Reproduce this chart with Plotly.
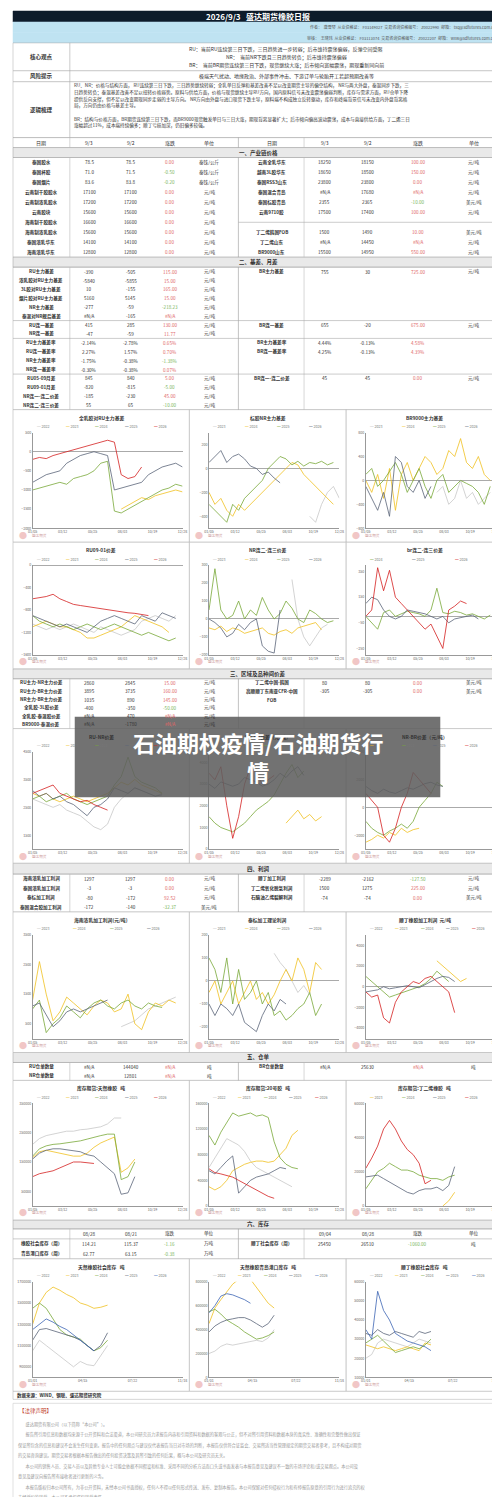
import plotly.graph_objects as go

W, H = 500, 1497
FONT = "Noto Sans CJK SC"

def X(x):
    return x / W

def Y(y):
    return 1 - y / H

# ---------------- data ----------------
t1_left_names = ["泰国胶水", "泰国杯胶", "泰国烟片", "云南制干胶胶水", "云南制浓乳胶水", "云南胶块",
                 "海南制干胶胶水", "海南制浓乳胶水", "泰国浓乳华东", "海南浓乳华东"]
t1_left_now = ["78.5", "71.0", "83.6", "17100", "17200", "15600", "16600", "15600", "14100", "12800"]
t1_left_prev = ["78.5", "71.5", "83.8", "17100", "17200", "15600", "16600", "15600", "14100", "12800"]
t1_left_chg = ["0.00", "-0.50", "-0.20", "0.00", "0.00", "0.00", "0.00", "0.00", "0.00", "0.00"]
t1_left_unit = ["泰铢/公斤"] * 3 + ["元/吨"] * 7
t1_right_names = ["云南全乳华东", "越南3L胶华东", "泰国RSS3山东", "泰国混合青岛", "泰国标胶青岛", "云南9710胶",
                  "", "丁二烯韩国FOB", "丁二烯山东", "BR9000山东"]
t1_right_now = ["18250", "18650", "23800", "#N/A", "2355", "17500", "", "1500", "#N/A", "15500"]
t1_right_prev = ["18150", "18500", "23800", "17680", "2365", "17400", "", "1490", "14450", "14950"]
t1_right_chg = ["100.00", "150.00", "0.00", "#N/A", "-10.00", "100.00", "", "10.00", "#N/A", "550.00"]
t1_right_unit = ["元/吨", "元/吨", "元/吨", "元/吨", "美元/吨", "元/吨", "", "美元/吨", "元/吨", "元/吨"]

t2_left_names = ["RU主力基差", "浓乳胶对RU主力基差", "3L胶对RU主力基差", "烟片胶对RU主力基差", "NR主力基差",
                 "泰混对NR舰后基差", "RU连一基差", "NR连一基差", "RU主力基差率", "RU连一基差率", "NR主力基差率",
                 "NR连一基差率", "RU05-09月差", "RU09-01月差", "NR连一-连二价差", "NR连二-连三价差"]
t2_left_now = ["-390", "-5840", "10", "5160", "-277", "#N/A", "415", "-47", "-2.14%", "2.27%", "-1.75%",
               "-0.30%", "845", "-820", "-185", "55"]
t2_left_prev = ["-505", "-5855", "-155", "5145", "-59", "-165", "285", "-59", "-2.78%", "1.57%", "-0.38%",
                "-0.38%", "840", "-815", "-230", "65"]
t2_left_chg = ["115.00", "15.00", "165.00", "15.00", "-218.23", "#N/A", "130.00", "11.77", "0.65%", "0.70%",
               "-1.38%", "0.07%", "5.00", "-5.00", "45.00", "-10.00"]
t2_left_unit = ["元/吨"] * 8 + [""] * 4 + ["元/吨"] * 4
t2_right_names = ["BR主力基差", "", "", "", "", "", "BR连一基差", "", "BR主力基差率", "BR连一基差率", "", "",
                  "BR连一-连二价差", "", "", ""]
t2_right_now = ["755", "", "", "", "", "", "655", "", "4.44%", "4.25%", "", "", "45", "", "", ""]
t2_right_prev = ["30", "", "", "", "", "", "-20", "", "-0.13%", "-0.13%", "", "", "45", "", "", ""]
t2_right_chg = ["725.00", "", "", "", "", "", "675.00", "", "4.58%", "4.39%", "", "", "0.00", "", "", ""]
t2_right_unit = ["元/吨", "", "", "", "", "", "元/吨", "", "", "", "", "", "元/吨", "", "", ""]

t3_left_names = ["RU主力-NR主力价差", "RU主力-BR主力价差", "NR主力-BR主力价差", "全乳胶-3L胶价差",
                 "全乳胶-泰混胶价差", "BR9000-泰混价差"]
t3_left_now = ["2860", "3895", "1035", "-400", "#N/A", "#N/A"]
t3_left_prev = ["2845", "3735", "890", "-350", "470", "-1780"]
t3_left_chg = ["15.00", "160.00", "145.00", "-50.00", "#N/A", "#N/A"]
t3_left_unit = ["元/吨"] * 6
t3_right_names = ["丁二烯中国-韩国", "高顺顺丁东南亚CFR-中国", "FOB", "", "", ""]
t3_right_now = ["80", "-305", "", "", "", ""]
t3_right_prev = ["80", "-305", "", "", "", ""]
t3_right_chg = ["0.00", "0.00", "", "", "", ""]
t3_right_unit = ["美元/吨", "美元/吨", "", "", "", ""]

t4_left_names = ["海南浓乳加工利润", "泰国浓乳加工利润", "泰标加工利润", "泰国混合胶加工利润"]
t4_left_now = ["1297", "-3", "-80", "-172"]
t4_left_prev = ["1297", "-3", "-172", "-140"]
t4_left_chg = ["0.00", "0.00", "92.52", "-32.37"]
t4_left_unit = ["元/吨", "元/吨", "元/吨", "美元/吨"]
t4_right_names = ["顺丁加工利润", "丁二烯氧化脱氢利润", "石脑油乙烯裂解利润", ""]
t4_right_now = ["-2289", "1500", "-74", ""]
t4_right_prev = ["-2162", "1275", "-74", ""]
t4_right_chg = ["-127.50", "225.00", "0.00", ""]
t4_right_unit = ["元/吨", "元/吨", "美元/吨", ""]

t5_left_names = ["RU仓单数量", "NR仓单数量"]
t5_left_now = ["#N/A", "#N/A"]
t5_left_prev = ["144040", "12801"]
t5_left_chg = ["#N/A", "#N/A"]
t5_left_unit = ["吨", "吨"]
t5_right_names = ["BR仓单数量", ""]
t5_right_now = ["#N/A", ""]
t5_right_prev = ["25630", ""]
t5_right_chg = ["#N/A", ""]
t5_right_unit = ["吨", ""]

t6_left_names = ["", "橡胶社会库存（周）", "青岛港口库存（周）"]
t6_left_now = ["08/28", "114.21", "62.77"]
t6_left_prev = ["08/21", "115.37", "63.15"]
t6_left_chg = ["涨跌", "-1.16", "-0.38"]
t6_left_unit = ["单位", "万吨", "万吨"]
t6_right_names = ["", "顺丁社会库存（周）", ""]
t6_right_now = ["09/04", "25450", ""]
t6_right_prev = ["08/28", "26510", ""]
t6_right_chg = ["涨跌", "-1060.00", ""]
t6_right_unit = ["单位", "吨", ""]

N = None
C22, C23, C24, C25, C26 = "#c8c8c8", "#f0c020", "#78a838", "#5a6478", "#d42020"
BLUE26 = "#3c64b4"

charts = [
    dict(title="全乳胶对RU主力基差", yr=[-2000, 500], yt=[500, 0, -500, -1000, -1500, -2000],
         series=[("2022", C22, []),
                 ("2023", C23, [N] * 13 + [-1500, -1400, -1300, -1200, -1250, -1150, -1100, -1050, -1000, -1050]),
                 ("2024", C24, [-1000, -950, -900, -850, -800, -850, -700, -650, -600, -500, -300, -250, -1550,
                                -1600, -1500, -1400, -1300, -1200, -1100, -1000, -950, -850, -900]),
                 ("2025", C25, [-800, -700, -600, -550, -500, -300, -200, -100, -50, 0, -50, -100, -1000, -950,
                                -900, -850, -800, -600, -500, -400, -350, -300, -400]),
                 ("2026", C26, [-200, -150, -180, -100, -50, 0, 50, 100, 150, 200, 250, 300, 250, -600, -700,
                                -650, -400])]),
    dict(title="标胶NR主力基差", yr=[-500, 300], yt=[200, 0, -200, -400],
         series=[("2023", C22, [N] * 17 + [-400, -450, -300, -200, -150, -250]),
                 ("2024", C23, [-200, -300, -250, -350, -400, -300, -350, -300, -250, -200, -150, -100, -50, 0,
                                50, 30, -50, -100, -150, -200, -250, -300]),
                 ("2025", C24, [-300, -350, -400, -450, -300, -350, -250, -200, -150, -100, 0, 50, 100, 80, 30,
                                60, 20, 50, 40, 60, 30, 50]),
                 ("2026", C25, [50, 100, 150, 50, 100, 120, 80, 20, 0, -50, -30, -80, -120])]),
    dict(title="BR9000主力基差", yr=[-800, 800], yt=[800, 400, 0, -400, -800],
         series=[("2023", C22, [N] * 12 + [-200, -100, -400, -300, 0, -300, -200, -400, -300, -200]),
                 ("2024", C23, [0, -200, 100, -300, 200, -500, 100, 300, 0, 200, 400, 300, 100, 200, 500, 400,
                                700, 300, 200, 400, 100, 0]),
                 ("2025", C24, [100, 200, -100, 0, 150, 300, 100, -200, 0, 200, -100, -300, 0, 100, -200, -100,
                                0, -50, -100, -200, -400, -100]),
                 ("2026", C25, [-100, -300, -500, -200, -600, 400, 300, -100, -200, 0, -300, -100])]),
    dict(title="RU09-01价差", yr=[-1600, 0], yt=[0, -400, -800, -1200, -1600],
         series=[("2022", C22, [-1050, -1100, -1150, -1100, -1150, -1100, -1050, -1100, -1150, -1200, -1100,
                                -1150, -1200, -1250, -1200, -1150, -1000, -950, -900, -950, -1000, -900]),
                 ("2023", C23, [-1100, -1050, -1000, -1050, -1100, -1100, -1150, -1200, -1300, -1300, -1250,
                                -1200, -1150, -1100, -1000, -900, -950, -1000, -1050, -1100, -1200]),
                 ("2024", C24, [-900, -1000, -1050, -1100, -1050, -1100, -1150, -1100, -1050, -1100, -1150, -1100,
                                -1050, -1100, -1150, -1200, -1250, -1200, -1250, -1300, -1350, -1300]),
                 ("2025", C25, [-900, -950, -1000, -1050, -1100, -1050, -1100, -1150, -1200, -1100, -1000, -950,
                                -900, -950, -1000, -1050, -900, -950, -1000, -850, -900, -950]),
                 ("2026", C26, [-600, -580, -560, -520, -600, -650, -700, -720, -740, -750, -780, -800, -820,
                                -840, -850, -860, -880, -900])]),
    dict(title="NR连二-连三价差", yr=[-200, 300], yt=[300, 200, 100, 0, -100, -200],
         series=[("2023", C22, [N] * 14 + [220, 0, -100, -150, -100, -50, -30]),
                 ("2024", C23, [-50, -60, -40, -70, -50, -60, -80, -70, -60, -50, -80, -90, -70, -60, -80, -50,
                                -40, -30, -20, -60]),
                 ("2025", C24, [50, 280, 50, 0, 20, 100, 0, 50, 20, 120, 50, 0, 30, 100, 60, 0, -20, 50, 30, 0,
                                -20, -10]),
                 ("2026", C25, [0, -20, -50, -100, -80, -30, -60, -20, 0, -150, -180, -190, 50])]),
    dict(title="br连二-连三价差", yr=[-300, 400], yt=[350, 150, -50, -250],
         series=[("2024", C24, [0, -50, -100, 30, 50, 0, 20, 40, 30, 20, 0, 50, 220, 30, 20, 40, 30, 10, 20, 0,
                                -20, 10]),
                 ("2025", C25, [100, 150, 130, 50, 0, -20, 0, 50, 40, 30, 20, 0, -20, 0, -50, -20, -10, 0, 10,
                                -20]),
                 ("2026", C26, [0, 50, 380, 200, 360, 150, 100, 50, 0, -50, -100, -60, -150, -250, 50, 80, 120,
                                100])]),
    dict(title="RU-NR价差", yr=[1000, 4500], yt=[4500, 3500, 2500, 1500],
         series=[("2022", C22, [2800, 2700, 2600, 2500, 2600, 2400, 2300, 2200, 2000, 1800, 1700, 1900, 2500,
                                2800, 3000, 3200, 3100, 3000, 2900, 3000]),
                 ("2023", C23, [3000, 2900, 3000, 2800, 2700, 2800, 2900, 2800, 2700, 2800, 2900, 3000, 3200,
                                3400, 3300, 3500, 3300, 3200, 3100, 3000]),
                 ("2024", C24, [2800, 2900, 2700, 2800, 2900, 3000, 2800, 2700, 2600, 2700, 2800, 2900, 3300,
                                3600, 4300, 3600, 3400, 3300, 3200, 3000]),
                 ("2025", C25, [3100, 2900, 3000, 2800, 2900, 2700, 2600, 2400, 2200, 2500, 2600, 2800, 3200,
                                3100, 3000, 3200, 3100, 3000, 2900, 2950]),
                 ("2026", C26, [3000, 3100, 3200, 3300, 3000, 2900, 2800, 2700, 2750, 2600, 2500, 2400])]),
    dict(title="RU-BR价差（元/吨）", yr=[0, 4500], yt=[4000, 3000, 2000, 1000, 0],
         series=[("2023", C22, []),
                 ("2024", C23, [N] * 13 + [1200, 1500, 1800, 1400, 1600, 1300, 1500]),
                 ("2025", C24, [1500, 1200, 1000, 900, 800, 1000, 1200, 1500, 1800, 2000, 2200, 2500, 3000, 3500,
                                3900, 3300, 3600]),
                 ("2026", C25, [3000, 2800, 3100, 3000, 2900, 3000, 3300, 3200, 3100, 2900, 3000, 3200, 3500,
                                3300, 3600, 3800, 3400]),
                 ("2026", C26, [3500, 3200, 3800, 2000, 500, 1500, 3000, 3800, 3500, 3000, 3200, 3400])]),
    dict(title="NR-BR价差（元/吨）", yr=[-3000, 4000], yt=[4000, 2000, 0, -2000],
         series=[("2023", C23, [-2500, -2300, -2000, -2200, -1800, -2000, -1500, -1800, -1600, -1500]),
                 ("2024", C24, [-1000, -1500, -1800, -2000, -1700, -1500, -1200, -1500, -1000, 0, 500, 1000,
                                1800, 1500]),
                 ("2025", C25, [1500, 1200, 1000, 1300, 1100, 1000, 1200, 1400, 1300, 1500, 1700, 1800, 1600,
                                1500]),
                 ("2026", C26, [1000, 500, 0, -2000, -2500, -1500, 0, 1000, 2500, 2000, 1500, 1000])]),
    dict(title="海南浓乳加工利润(元/吨)", yr=[0, 3500], yt=[3500, 2500, 1500, 500],
         series=[("2023", C22, [N] * 13 + [400, 500, 600, 800, 1000, 1100, 1200, 1300, 1400]),
                 ("2024", C23, [1300, 2600, 1500, 600, 900, 1400, 1200, 1000, 800, 1100, 1300, 1200, 900, 1000,
                                1500, 500, 300, 900, 1200, 1100, 1300, 1200]),
                 ("2025", C24, [1000, 1300, 200, 500, 700, 1100, 900, 700, 1000, 1200, 1300, 1100, 1000, 1200,
                                1300, 1100, 1000, 1200, 1100, 1050]),
                 ("2026", C25, [1100, 1200, 800, 400, 600, 900, 1000, 900, 1000, 1100, 1200, 1300])]),
    dict(title="泰标加工理论利润", yr=[-250, 200], yt=[200, 100, 0, -100, -200],
         series=[("2023", C22, [N] * 11 + [120, 80, 50, 0, -50, -20, -60]),
                 ("2024", C23, [-50, 0, -100, -50, 0, -100, -50, 0, -80, -50, -100, -60, 0, 50, 0, 100, 50, -50,
                                80, 50]),
                 ("2025", C24, [100, 50, -50, 100, -100, 50, -80, -50, 0, -100, -50, -150, -130, -170, -150,
                                -120, -100, -50, -150, -100]),
                 ("2026", C25, [-100, -150, -100, -120, -150, -100, -180, -200, -220, -150, -100, -130, -80,
                                -100])]),
    dict(title="顺丁橡胶加工利润  元/吨", yr=[-5000, 5000], yt=[4000, 2000, 0, -2000, -4000],
         series=[("2022", C22, []),
                 ("2023", C23, [N] * 12 + [2500, 2000, 1500, 1000, 500, 800]),
                 ("2024", C24, [1000, 500, 0, -500, -1000, -800, -600, -400, -200, 0, 300, 800, 1500, 1000, 500]),
                 ("2025", C25, [-500, -400, -300, 0, -200, -100, 0, 100, 0, -100, 200, 500, 800, 1000, 900, 500]),
                 ("2026", C26, [-500, -1000, -800, -3000, -3500, -1500, -500, 0, 500, 300, 800, 1000, 500, 0,
                                -500, -2500])]),
    dict(title="库存期货:天然橡胶   吨", yr=[0, 350000], yt=[350000, 250000, 150000, 50000],
         series=[("2022", C22, [210000, 230000, 240000, 245000, 250000, 255000, 255000, 260000, 262000, 265000,
                                270000, 280000, 300000, 300000]),
                 ("2023", C23, [165000, 185000, 190000, 185000, 180000, 175000, 170000, 170000, 180000, 200000,
                                215000, 225000, 235000, 115000, 130000, 160000]),
                 ("2024", C24, [170000, 195000, 205000, 210000, 212000, 215000, 218000, 222000, 228000, 235000,
                                240000, 245000, 245000, 90000, 100000, 150000]),
                 ("2025", C25, [160000, 180000, 190000, 195000, 195000, 192000, 190000, 185000, 175000, 170000,
                                150000, 130000, 110000, 40000, 45000, 100000]),
                 ("2026", C26, [100000, 110000, 115000, 120000, 130000, 140000, 150000, 150000, 148000, 145000])]),
    dict(title="库存期货:20号胶   吨", yr=[0, 160000], yt=[160000, 120000, 80000, 40000, 0],
         series=[("2022", C22, [60000, 75000, 90000, 105000, 100000, 95000, 85000, 70000, 60000, 55000, 50000,
                                45000, 40000, 35000, 30000]),
                 ("2023", C23, [30000, 25000, 30000, 40000, 55000, 60000, 65000, 68000, 70000, 70000, 68000,
                                70000, 80000, 90000, 110000, 118000]),
                 ("2024", C24, [110000, 95000, 115000, 130000, 145000, 140000, 142000, 145000, 140000, 142000,
                                138000, 100000, 75000, 65000, 60000, 58000]),
                 ("2025", C25, [55000, 50000, 60000, 70000, 78000, 20000, 30000, 40000, 45000, 48000, 50000,
                                55000, 60000, 58000]),
                 ("2026", C26, [58000, 52000, 50000, 48000, 45000, 40000, 35000, 30000, 25000, 20000, 15000,
                                12000])]),
    dict(title="库存期货:丁二烯橡胶   吨", yr=[0, 60000], yt=[60000, 40000, 20000, 0],
         series=[("2023", C23, [N] * 13 + [0, 3000, 8000]),
                 ("2024", C24, [10000, 15000, 20000, 22000, 25000, 23000, 21000, 21000, 20000, 18000, 17000,
                                16000, 16000, 15000, 17000, 18000]),
                 ("2025", C25, [17000, 17500, 18000, 16000, 14000, 12000, 10000, 8000, 7000, 9000, 10000, 10000,
                                11000, 9000, 12000, 23000]),
                 ("2026", C26, [22000, 28000, 35000, 45000, 50000, 45000, 38000, 33000, 30000, 25000, 13000,
                                15000])]),
    dict(title="天然橡胶社会库存   吨", yr=[800000, 1700000], yt=[1700000, 1500000, 1300000, 1100000, 900000],
         series=[("2022", C22, [1050000, 1150000, 1100000, 1050000, 1000000, 950000, 900000, 950000, 920000,
                                910000, 1000000, 1100000]),
                 ("2023", C23, [1300000, 1500000, 1600000, 1650000, 1620000, 1580000, 1550000, 1500000, 1480000,
                                1450000, 1460000, 1480000]),
                 ("2024", C24, [1450000, 1500000, 1450000, 1350000, 1250000, 1200000, 1180000, 1160000, 1100000,
                                1050000, 1080000, 1150000]),
                 ("2025", C25, [1150000, 1250000, 1260000, 1240000, 1220000, 1200000, 1180000, 1150000, 1100000,
                                1050000, 1100000, 1220000]),
                 ("2026", BLUE26, [1250000, 1300000, 1350000, 1320000, 1280000, 1250000, 1200000, 1150000,
                                   1100000, 1050000])]),
    dict(title="天然橡胶青岛港口库存   吨", yr=[0, 800000], yt=[800000, 600000, 400000, 200000, 0],
         series=[("2022", C22, [200000, 220000, 260000, 280000, 270000, 280000, 290000, 300000, 310000, 300000,
                                330000, 400000]),
                 ("2023", C23, [450000, 580000, 650000, 720000, 780000, 820000, 850000, 820000, 750000, 680000,
                                620000, 580000]),
                 ("2024", C24, [550000, 570000, 530000, 480000, 450000, 420000, 380000, 350000, 320000, 330000,
                                350000, 380000]),
                 ("2025", C25, [380000, 430000, 460000, 480000, 490000, 500000, 500000, 480000, 450000, 420000,
                                450000, 520000]),
                 ("2026", BLUE26, [540000, 600000, 680000, 700000, 690000, 670000, 650000, 620000])]),
    dict(title="顺丁橡胶社会库存   吨", yr=[10000, 60000], yt=[60000, 50000, 40000, 30000, 20000, 10000],
         series=[("2022", C22, [20000, 22000, 28000, 30000, 29000, 28000, 27000, 26000, 28000, 30000, 29000,
                                28000]),
                 ("2023", C23, [27000, 26000, 25000, 26000, 25000, 24000, 25000, 26000, 25000, 24000, 28000,
                                27000]),
                 ("2024", C24, [28000, 30000, 32000, 29000, 26000, 23000, 24000, 25000, 26000, 25000, 27000,
                                30000]),
                 ("2025", C25, [33000, 32000, 35000, 33000, 32000, 34000, 33000, 32000, 31000, 34000, 33000,
                                34000]),
                 ("2026", BLUE26, [35000, 30000, 55000, 45000, 40000, 33000, 31000, 29000, 28000, 27000, 26000,
                                   24000])]),
]
xlabels_a = ["01/05", "03/12", "05/25", "08/03", "10/19", "12/28"]
xlabels_b = ["01/01", "04/15", "07/22", "11/18"]

chart_rows = [(400, 533), (533, 660), (720, 855), (904, 1045), (1073, 1213), (1252, 1385)]
chart_cols = [(0, 180), (180, 340), (340, 500)]

fig = go.Figure()
shapes = []
ann = []

def text(x, y, s, size=5, color="#333", xa="center", bold=False, **kw):
    if bold:
        s = "<b>" + s + "</b>"
    ann.append(dict(x=X(x), y=Y(y), xref="paper", yref="paper", text=s, showarrow=False,
                    xanchor=xa, yanchor="middle", font=dict(size=size, color=color, family=FONT), **kw))

def rect(x0, y0, x1, y1, fill, line="#bdbdbd", lw=0.5):
    shapes.append(dict(type="rect", xref="paper", yref="paper", x0=X(x0), x1=X(x1), y0=Y(y1), y1=Y(y0),
                       fillcolor=fill, line=dict(color=line, width=lw), layer="below"))

def hline(y, x0=0, x1=500, color="#999", w=0.6):
    shapes.append(dict(type="line", xref="paper", yref="paper", x0=X(x0), x1=X(x1), y0=Y(y), y1=Y(y),
                       line=dict(color=color, width=w)))

def vline(x, y0, y1, color="#bbb", w=0.6):
    shapes.append(dict(type="line", xref="paper", yref="paper", x0=X(x), x1=X(x), y0=Y(y0), y1=Y(y1),
                       line=dict(color=color, width=w)))

LCX = [29, 78, 120, 160, 200]
RCX = [264, 318, 362, 413, 470]

def add_table(y0, y1, left, right, chg=True):
    n = len(left[0])
    h = (y1 - y0) / n
    for cols, cx in ((left, LCX), (right, RCX)):
        for i in range(n):
            yy = y0 + h * (i + 0.5)
            for j, col in enumerate(cols):
                v = col[i]
                if not v:
                    continue
                color = "#333"
                if j == 3 and chg and v not in ("涨跌",):
                    color = "#7ab55c" if v.startswith("-") else "#e06666"
                text(cx[j], yy, v, size=4.6, color=color, bold=(j == 0))
    rect(0, y0, 500, y1, "rgba(0,0,0,0)", "#aaa")
    vline(58, y0, y1); vline(230, y0, y1, "#999"); vline(297, y0, y1)

def section(y0, y1, label):
    rect(0, y0, 500, y1, "#e9e9e9", "#9a9a9a")
    text(250, (y0 + y1) / 2, label, size=5.5, bold=True)

# ---------------- header ----------------
rect(0, 0, 500, 11, "#0d1b2a", "#0d1b2a")
text(250, 5.5, "2026/9/3   盛达期货橡胶日报", size=8, color="white", bold=True)
rect(0, 11, 500, 21.5, "#bfe3f2", "#bfe3f2")
rect(0, 21.5, 500, 32, "#bfe3f2", "#bfe3f2")
text(495, 16, "作者：  唐雪琴  从业资格证： F03149027  交易咨询资格编号： Z0022990  邮箱： txq@sdfutures.com.cn",
     size=4, color="#555", xa="right")
text(495, 27, "审核：  王晓玮  从业资格证： F03113074  交易咨询资格编号： Z0022207  邮箱： wxw@sdfutures.com.cn",
     size=4, color="#555", xa="right")

rect(0, 32, 500, 60, "white", "#aaa")
rect(0, 60, 500, 71, "white", "#aaa")
rect(0, 71, 500, 127, "white", "#aaa")
vline(58, 32, 127, "#aaa")
text(29, 46, "核心观点", size=5.5, bold=True)
text(29, 65.5, "风险提示", size=5.5, bold=True)
text(29, 99, "逻辑梳理", size=5.5, bold=True)
text(279, 38, "RU：当前RU连续第三日下跌，三日趋势进一步转弱；后市维持震荡偏弱，反弹空间受限", size=5)
text(279, 46, "NR：  当前NR下跌且三日趋势转负；后市维持震荡偏弱", size=5)
text(279, 54, "BR：  当前BR期货连续第三日下跌，现货继续大涨；后市倾向宽幅震荡，期现重新同向前", size=5)
text(279, 65.5, "极端天气扰动、地缘政治、外部事件冲击、下游订单与轮胎开工若超预期改善等", size=5)
logic = ["RU、NR：价格与结构方面， RU连续第三日下跌，三日趋势继续转弱；全乳单日反弹和基差改善不足以改变期货主导的偏空结构， NR与两大外盘，泰混同步下跌，三",
         "日趋势转负；泰混基差改善不足以扭转价格弱势。原料与供给方面，价格与现货继续主导RU方向，国内原料信号未改变震荡偏弱判断，库存与需求方面，RU仓单下降",
         "提供反向支撑，但不足以改变期现同步走弱的主导方向。 NR方向由外盘与进口现货下跌主导，原料端不构成独立反转驱动，库存和终端背景信号未改变内外盘背离格",
         "局，方向仍由价格与基差主导。",
         "",
         "BR：结构与价格方面，BR期货连续第三日下跌，而BR9000现货触发单日与三日大涨，期现背离显著扩大；后市倾向偏高波动震荡，成本与直接供给方面，丁二烯三日",
         "涨幅超过11%，成本端持续偏多；顺丁亏损加深，仍旧偏多较强。"]
for i, line in enumerate(logic):
    text(60, 75 + i * 6.7, line, size=4.6, xa="left")

hdr = ["日期", "9/3", "9/2", "涨跌", "单位"]
for i, h in enumerate(hdr):
    text(LCX[i], 132, h, size=5)
    text(RCX[i], 132, h, size=5)
rect(0, 127, 500, 137, "rgba(0,0,0,0)", "#aaa")
vline(58, 127, 137); vline(230, 127, 137, "#999"); vline(297, 127, 137)

section(137, 147, "一、产业链价格")
add_table(147, 247, [t1_left_names, t1_left_now, t1_left_prev, t1_left_chg, t1_left_unit],
          [t1_right_names, t1_right_now, t1_right_prev, t1_right_chg, t1_right_unit])
hline(212, 230, 500, "#aaa")

section(247, 257, "二、基差、月差")
add_table(257, 400, [t2_left_names, t2_left_now, t2_left_prev, t2_left_chg, t2_left_unit],
          [t2_right_names, t2_right_now, t2_right_prev, t2_right_chg, t2_right_unit])
for yy in [310.6, 328.5, 364.3]:
    hline(yy, 0, 500, "#aaa")

section(660, 670, "三、区域及品种间价差")
add_table(670, 720, [t3_left_names, t3_left_now, t3_left_prev, t3_left_chg, t3_left_unit],
          [t3_right_names, t3_right_now, t3_right_prev, t3_right_chg, t3_right_unit])

section(855, 866, "四、利润")
add_table(866, 904, [t4_left_names, t4_left_now, t4_left_prev, t4_left_chg, t4_left_unit],
          [t4_right_names, t4_right_now, t4_right_prev, t4_right_chg, t4_right_unit])

section(1045, 1055, "五、仓单")
add_table(1055, 1073, [t5_left_names, t5_left_now, t5_left_prev, t5_left_chg, t5_left_unit],
          [t5_right_names, t5_right_now, t5_right_prev, t5_right_chg, t5_right_unit])

section(1213, 1222, "六、库存")
add_table(1222, 1252, [t6_left_names, t6_left_now, t6_left_prev, t6_left_chg, t6_left_unit],
          [t6_right_names, t6_right_now, t6_right_prev, t6_right_chg, t6_right_unit])
hline(1232, 0, 500, "#aaa")

# ---------------- charts ----------------
layout_axes = {}
for k, ch in enumerate(charts):
    r, c = divmod(k, 3)
    top, bot = chart_rows[r]
    x0, x1 = chart_cols[c]
    rect(x0, top, x1, bot, "white", "#b5b5b5", 0.6)
    text((x0 + x1) / 2, top + 8, ch["title"], size=4.8, bold=True)
    ns = len(ch["series"])
    for j, (nm, col, vals) in enumerate(ch["series"]):
        lx = x0 + 22 + j * (x1 - x0 - 30) / ns
        text(lx, top + 17, "<span style='color:%s'>━</span> %s" % (col, nm), size=3.6, color="#777", xa="left")
    ax = "" if k == 0 else str(k + 1)
    xd = [X(x0 + 20), X(x1 - 7)]
    yd = [Y(bot - 14), Y(top + 23)]
    for j, (nm, col, vals) in enumerate(ch["series"]):
        if not vals:
            continue
        fig.add_trace(go.Scatter(x=list(range(len(vals))), y=vals, mode="lines", name=nm,
                                 line=dict(color=col, width=0.8), showlegend=False,
                                 xaxis="x" + ax, yaxis="y" + ax))
    labels = xlabels_a if r < 5 else xlabels_b
    npts = 23
    tv = [i * (npts - 1) / (len(labels) - 1) for i in range(len(labels))]
    layout_axes["xaxis" + ax] = dict(domain=xd, anchor="y" + ax, range=[0, npts - 1], tickvals=tv,
                                     ticktext=labels, showgrid=False, zeroline=False, showline=True,
                                     linecolor="#999", linewidth=0.5, tickfont=dict(size=3.6, color="#666"),
                                     ticks="", fixedrange=True)
    layout_axes["yaxis" + ax] = dict(domain=yd, anchor="x" + ax, range=ch["yr"], tickvals=ch["yt"],
                                     showgrid=False, zeroline=True, zerolinecolor="#aaa", zerolinewidth=0.6,
                                     showline=True, linecolor="#999", linewidth=0.5,
                                     tickfont=dict(size=3.6, color="#666"), tickformat="d", fixedrange=True)
    text(x0 + 10, bot - 7, "●", size=8, color="#f1c6c6")
    text(x0 + 17, bot - 7, "盛达期货", size=3.6, color="#c99", xa="left")

# ---------------- footer ----------------
rect(0, 1385, 500, 1393, "white", "#aaa")
text(2, 1389, "数据来源：WIND、钢联、盛达期货研究院", size=4.5, xa="left", bold=True)
text(4, 1405, "【法律声明】", size=5.5, color="#c0392b", xa="left")
legal = ["        盛达期货有限公司（以下简称“本公司”）。",
         "        报告所引用信息和数据均来源于公开资料和合法渠道，本公司研究员力求报告内容和引用资料和数据的客观与公正，但不对所引用资料和数据本身的真实性、准确性和完整性做出保证",
         "保证所包含的信息和建议不会发生任何变更。报告中的任何观点与建议仅代表报告当日对市场的判断，本报告仅供符合证监会、交易所适当性管理规定的期货交易者参考，且不构成对期货",
         "的交易咨询建议。期货交易者根据本报告做出的任何投资决策及其所引致的任何后果，概与本公司及研究员无关。",
         "        本公司的销售人员、交易人员以及其他专业人士可能会依据不同假设和标准、采用不同的分析方法而口头或书面发表与本报告意见及建议不一致的市场评论和/或交易观点。本公司没",
         "意见及建议向报告所有接收者进行更新的义务。",
         "        本报告版权归本公司所有，为非公开资料，未经本公司书面授权，任何人不得以任何形式传送、发布、复制本报告。本公司保留对任何侵权行为和有悖报告原意的引用行为进行追究的权",
         "未经授权的转载，本公司不承担任何转载责任。"]
for i, line in enumerate(legal):
    text(3, 1418 + i * 10.5, line, size=4.2, color="#999", xa="left")
shapes.append(dict(type="rect", xref="paper", yref="paper", x0=0, x1=1, y0=Y(1495), y1=Y(1397),
                   line=dict(color="#ccc", width=0.6), fillcolor="rgba(0,0,0,0)"))

# ---------------- overlay banner ----------------
shapes.append(dict(type="rect", xref="paper", yref="paper", x0=X(63), x1=X(436), y0=Y(789), y1=Y(708),
                   fillcolor="rgba(95,95,95,0.88)", line=dict(width=0), layer="above"))
ann.append(dict(x=X(250), y=Y(748), xref="paper", yref="paper", showarrow=False, align="center",
                text="<b>石油期权疫情/石油期货行<br>情</b>", font=dict(size=22, color="white", family=FONT)))

fig.update_layout(width=W, height=H, margin=dict(l=0, r=0, t=0, b=0), paper_bgcolor="white",
                  plot_bgcolor="white", shapes=shapes, annotations=ann, showlegend=False,
                  font=dict(family=FONT), **layout_axes)
fig.write_html("out.html")
